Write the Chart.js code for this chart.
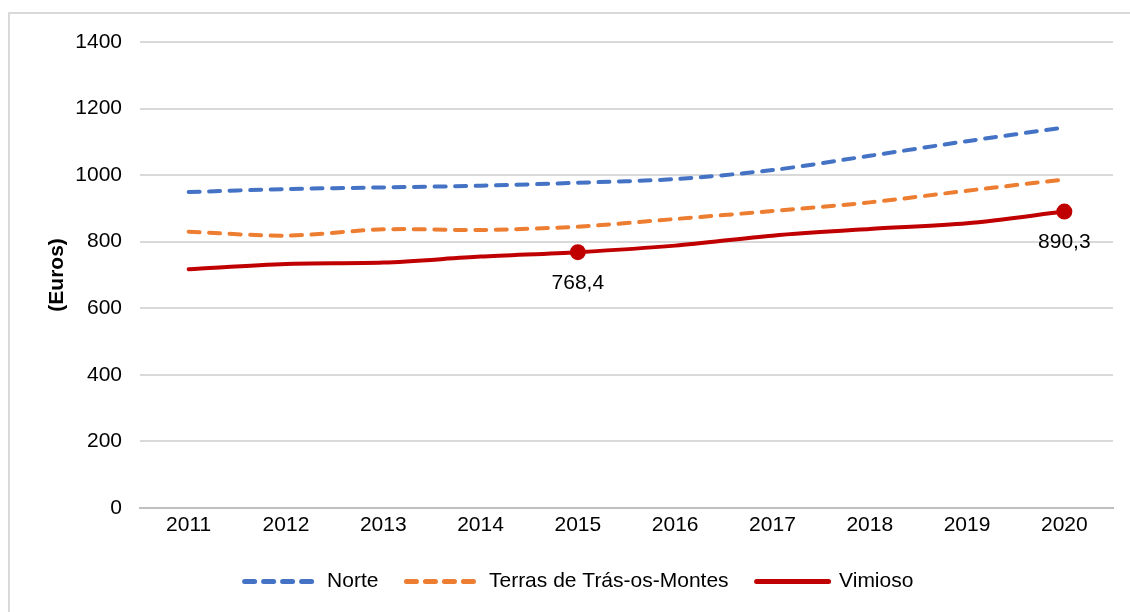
<!DOCTYPE html>
<html>
<head>
<meta charset="utf-8">
<script src="https://cdn.jsdelivr.net/npm/chart.js@4/dist/chart.umd.min.js"></script>
<style>
  html, body { margin: 0; padding: 0; background: #ffffff; }
  #wrap { position: relative; width: 1130px; height: 612px; overflow: hidden; }
  #frame { position: absolute; left: 8px; top: 12px; width: 1200px; height: 700px;
           border-top: 2px solid #d9d9d9; border-left: 2px solid #d9d9d9; box-sizing: border-box; }
  canvas { position: absolute; left: 0; top: 0; }
</style>
</head>
<body>
<div id="wrap">
  <div id="frame"></div>
  <canvas id="c" width="1130" height="612"></canvas>
</div>
<script>
const years = ['2011','2012','2013','2014','2015','2016','2017','2018','2019','2020'];
const norte = [949, 958, 963, 968, 977, 988, 1015, 1058, 1102, 1143];
const terras = [830, 818, 837, 835, 845, 868, 892, 918, 953, 987];
const vimioso = [717, 733, 737, 755, 768.4, 788, 818, 838, 855, 890.3];
const labelledIdx = [4, 9];
const yTicks = [0, 200, 400, 600, 800, 1000, 1200, 1400];

const FONT = "'Liberation Sans', Arial, sans-serif";
const FS = 21;

const dataLabels = {
  id: 'dataLabels',
  afterDatasetsDraw(chart) {
    const ctx = chart.ctx;
    const meta = chart.getDatasetMeta(2);
    ctx.save();
    ctx.font = FS + 'px ' + FONT;
    ctx.fillStyle = '#000000';
    ctx.textAlign = 'center';
    ctx.textBaseline = 'middle';
    labelledIdx.forEach(i => {
      const p = meta.data[i];
      const txt = vimioso[i].toFixed(1).replace('.', ',');
      ctx.fillText(txt, p.x, p.y + 31);
    });
    ctx.restore();
  }
};

new Chart(document.getElementById('c'), {
  type: 'line',
  data: {
    labels: years,
    datasets: [
      { label: 'Norte', data: norte, borderColor: '#4472C4', backgroundColor: '#4472C4',
        borderWidth: 4, borderDash: [11, 9.5], borderCapStyle: 'round', tension: 0.3,
        pointRadius: 0, fill: false },
      { label: 'Terras de Trás-os-Montes', data: terras, borderColor: '#ED7D31', backgroundColor: '#ED7D31',
        borderWidth: 4, borderDash: [11, 9.5], borderCapStyle: 'round', tension: 0.3,
        pointRadius: 0, fill: false },
      { label: 'Vimioso', data: vimioso, borderColor: '#C00000', backgroundColor: '#C00000',
        borderWidth: 4, borderCapStyle: 'round', tension: 0.3,
        pointRadius: c => labelledIdx.includes(c.dataIndex) ? 6 : 0,
        pointBackgroundColor: '#C00000', pointBorderColor: '#C00000', fill: false }
    ]
  },
  options: {
    responsive: false,
    animation: false,
    devicePixelRatio: 1,
    layout: { padding: { left: 45, right: 17, top: 42, bottom: 10 } },
    plugins: {
      tooltip: { enabled: false },
      legend: {
        position: 'bottom',
        labels: {
          font: { family: FONT, size: FS },
          color: '#000000',
          usePointStyle: true,
          pointStyleWidth: 72,
          boxWidth: 72,
          padding: 28,
          generateLabels: chart => chart.data.datasets.map((ds, i) => ({
            text: ds.label,
            datasetIndex: i,
            fillStyle: ds.borderColor,
            strokeStyle: ds.borderColor,
            lineWidth: 5,
            lineDash: ds.borderDash ? [10, 9] : [],
            lineCap: 'round',
            pointStyle: 'line',
            fontColor: '#000000',
            hidden: false
          }))
        }
      }
    },
    scales: {
      x: {
        offset: true,
        grid: { display: false, drawTicks: false },
        border: { display: true, color: '#bfbfbf', width: 2 },
        ticks: { font: { family: FONT, size: FS }, color: '#000000', padding: 5, maxRotation: 0 }
      },
      y: {
        min: 0, max: 1400,
        afterBuildTicks: axis => { axis.ticks = yTicks.map(v => ({ value: v })); },
        afterFit: axis => { axis.width = 95; },
        grid: { color: '#d9d9d9', lineWidth: 2, drawTicks: false },
        border: { display: false },
        ticks: { font: { family: FONT, size: FS }, color: '#000000', padding: 18,
                 callback: v => String(v) },
        title: { display: true, text: '(Euros)', font: { family: FONT, size: FS, weight: 'bold' },
                 color: '#000000', padding: { top: 0, bottom: 6 } }
      }
    }
  },
  plugins: [dataLabels]
});
</script>
</body>
</html>
